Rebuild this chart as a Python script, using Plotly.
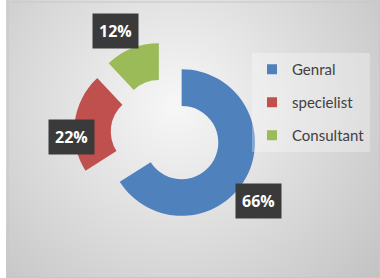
import numpy as np
import plotly.graph_objects as go

labels = ["Genral", "specielist", "Consultant"]
values = [66, 22, 12]
colors = ["#4F81BD", "#C0504D", "#9BBB59"]

# style / geometry (pixel space)
W, H = 380, 278
CX, CY, R = 165.6, 133.7, 73.3
HOLE = 0.5
PULL = 0.25
LABEL_R = [1.32, 1.04, 1.31]
LABEL_DA = [8.2, -11.4, -5.5]

fig = go.Figure()

# radial gradient background drawn as a smooth heatmap in pixel coordinates
gx = np.linspace(8, 380, 94)
gy = np.linspace(2, 278, 70)
GX, GY = np.meshgrid(gx, gy)
GZ = np.hypot(GX - 175, GY - 105)
fig.add_trace(go.Heatmap(
    x=gx, y=gy, z=GZ, zmin=0, zmax=270, zsmooth="best",
    colorscale=[[0, "#f7f7f7"], [1, "#c2c2c2"]],
    showscale=False, hoverinfo="skip",
))

half = R * (1 + PULL)
fig.add_trace(go.Pie(
    labels=labels, values=values, sort=False, direction="clockwise", rotation=0,
    hole=HOLE, pull=[PULL] * len(values), textinfo="none", showlegend=False,
    marker=dict(colors=colors, line=dict(width=0)),
    domain=dict(x=[(CX - half) / W, (CX + half) / W],
                y=[(H - CY - half) / H, (H - CY + half) / H]),
))

# legend entries
for lab, col in zip(labels, colors):
    fig.add_trace(go.Scatter(
        x=[None], y=[None], mode="markers", name=lab, legendgroup=lab,
        marker=dict(symbol="square", size=10, color=col),
    ))

# data labels
tot = sum(values)
cum = 0
for i, v in enumerate(values):
    mid = (cum + v / 2) / tot * 360
    cum += v
    t = np.radians(mid)
    scx = CX + PULL * R * np.sin(t)
    scy = CY - PULL * R * np.cos(t)
    a = np.radians(mid + LABEL_DA[i])
    d = LABEL_R[i] * R
    fig.add_annotation(
        x=scx + d * np.sin(a), y=scy - d * np.cos(a), xref="x", yref="y",
        text=f"<b>{v}%</b>", showarrow=False,
        font=dict(family="Open Sans", size=16, color="white"),
        bgcolor="#3a3a3a", borderpad=6,
    )

fig.add_shape(type="rect", x0=8, y0=2, x1=379.5, y1=277.5, xref="x", yref="y",
              line=dict(color="#c8c8c8", width=1), layer="above")

fig.update_layout(
    width=W, height=H, margin=dict(l=0, r=0, t=0, b=0),
    paper_bgcolor="white", plot_bgcolor="white",
    xaxis=dict(range=[0, W], visible=False, domain=[0, 1], fixedrange=True),
    yaxis=dict(range=[H, 0], visible=False, domain=[0, 1], fixedrange=True),
    showlegend=True,
    legend=dict(
        x=252 / W, y=1 - 53 / H, xanchor="left", yanchor="top",
        bgcolor="rgba(255,255,255,0.3)", tracegroupgap=10.5,
        font=dict(family="Lato", size=15, color="#404040"),
    ),
)

fig.write_html("out.html", config={"displayModeBar": False},
               post_script="document.body.style.margin='0';")
